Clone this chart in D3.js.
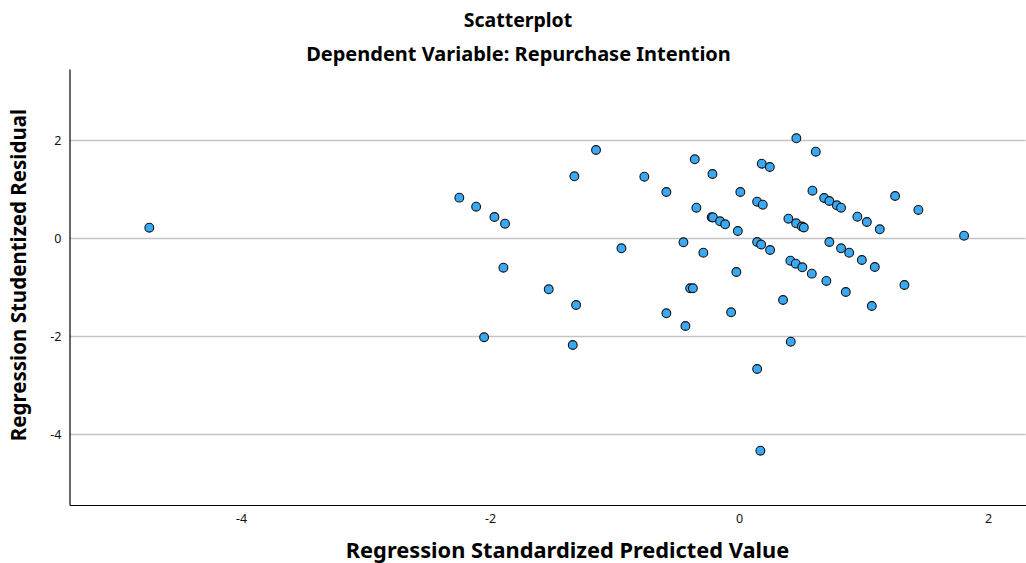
<!DOCTYPE html>
<html>
<head>
<meta charset="utf-8">
<script src="https://cdn.jsdelivr.net/npm/d3@7"></script>
<style>
  html, body { margin: 0; padding: 0; background: #fff; }
  svg { display: block; font-family: "Noto Sans", "DejaVu Sans", sans-serif; }
</style>
</head>
<body>
<svg id="chart" width="1026" height="563"></svg>
<script>
// Regression Standardized Predicted Value
const predicted = [
  -4.737, -2.247, -2.112, -1.965, -1.880, -1.893, -2.048, -1.529, -1.309, -1.336,
  -1.323, -1.149, -0.945, -0.761, -0.584, -0.584, -0.447, -0.431, -0.356, -0.343,
  -0.393, -0.371, -0.287, -0.220, -0.210, -0.214, -0.153, -0.112, -0.064, -0.022,
  -0.010, 0.010, 0.145, 0.190, 0.145, 0.177, 0.249, 0.182, 0.247, 0.145,
  0.171, 0.353, 0.396, 0.458, 0.504, 0.520, 0.412, 0.455, 0.508, 0.584,
  0.415, 0.460, 0.616, 0.589, 0.683, 0.725, 0.785, 0.819, 0.725, 0.701,
  0.819, 0.884, 0.857, 0.950, 1.026, 1.130, 0.986, 1.090, 1.066, 1.253,
  1.328, 1.440, 1.807
];
// Regression Studentized Residual
const residual = [
  0.216, 0.829, 0.645, 0.435, 0.298, -0.600, -2.020, -1.041, -1.361, -2.178,
  1.265, 1.802, -0.204, 1.257, 0.945, -1.531, -0.082, -1.790, 1.612, 0.624,
  -1.020, -1.020, -0.294, 0.429, 0.425, 1.312, 0.347, 0.286, -1.510, -0.688,
  0.149, 0.945, 0.747, 0.686, -0.076, -0.127, -0.239, 1.522, 1.455, -2.667,
  -4.335, -1.259, 0.400, 0.306, 0.241, 0.220, -0.457, -0.518, -0.592, -0.722,
  -2.110, 2.041, 1.767, 0.971, 0.822, 0.761, 0.673, 0.624, -0.076, -0.871,
  -0.204, -0.294, -1.096, 0.441, 0.333, 0.184, -0.443, -0.586, -1.382, 0.863,
  -0.953, 0.578, 0.053
];
const xTickValues = [-4, -2, 0, 2];
const yTickValues = [2, 0, -2, -4];
const titleText = "Scatterplot";
const subtitleText = "Dependent Variable: Repurchase Intention";
const xLabel = "Regression Standardized Predicted Value";
const yLabel = "Regression Studentized Residual";

const points = predicted.map((v, i) => ({ x: v, y: residual[i] }));

const svg = d3.select("#chart");
const plotLeft = 69.5, plotRight = 1025.7, plotTop = 69, plotBottom = 505;

const x = d3.scaleLinear().domain([-5.378, 2.302]).range([plotLeft, plotRight]);
const y = d3.scaleLinear().domain([-5.443, 3.455]).range([plotBottom, plotTop]);

// gridlines
svg.append("g")
  .selectAll("line")
  .data(yTickValues)
  .join("line")
  .attr("x1", plotLeft).attr("x2", plotRight)
  .attr("y1", d => Math.round(y(d)) + 0.5).attr("y2", d => Math.round(y(d)) + 0.5)
  .attr("stroke", "#c4c4c4").attr("stroke-width", 1.4);

// axes
const xAxis = d3.axisBottom(x).tickValues(xTickValues).tickSize(0).tickPadding(9)
  .tickFormat(d => String(d).replace("−", "-"));
const gx = svg.append("g").attr("transform", `translate(0,${plotBottom})`).call(xAxis);
gx.select(".domain").attr("stroke", "#000").attr("stroke-width", 1.2);
gx.selectAll("text").attr("font-size", 12.5).attr("fill", "#111")
  .attr("font-family", "'Noto Sans', sans-serif");

const yAxis = d3.axisLeft(y).tickValues(yTickValues).tickSize(0).tickPadding(8)
  .tickFormat(d => String(d).replace("−", "-"));
const gy = svg.append("g").attr("transform", `translate(${plotLeft},0)`).call(yAxis);
gy.select(".domain").attr("stroke", "#000").attr("stroke-width", 1.2);
gy.selectAll("text").attr("font-size", 12.5).attr("fill", "#111")
  .attr("font-family", "'Noto Sans', sans-serif");

// points
svg.append("g")
  .selectAll("circle")
  .data(points)
  .join("circle")
  .attr("cx", d => x(d.x))
  .attr("cy", d => y(d.y))
  .attr("r", 4.4)
  .attr("fill", "#3aa9f5")
  .attr("stroke", "#111")
  .attr("stroke-width", 1.1);

// titles
svg.append("text").attr("x", 518).attr("y", 27).attr("text-anchor", "middle")
  .attr("font-size", 19.5).attr("font-weight", "bold").attr("fill", "#000").text(titleText);
svg.append("text").attr("x", 518.5).attr("y", 61).attr("text-anchor", "middle")
  .attr("font-size", 20).attr("font-weight", "bold").attr("fill", "#000").text(subtitleText);
svg.append("text").attr("x", 567.5).attr("y", 558).attr("text-anchor", "middle")
  .attr("font-size", 21.8).attr("font-weight", "bold").attr("fill", "#000").text(xLabel);
svg.append("text").attr("transform", "translate(26,275) rotate(-90)").attr("text-anchor", "middle")
  .attr("font-size", 20.5).attr("font-weight", "bold").attr("fill", "#000").text(yLabel);
</script>
</body>
</html>
